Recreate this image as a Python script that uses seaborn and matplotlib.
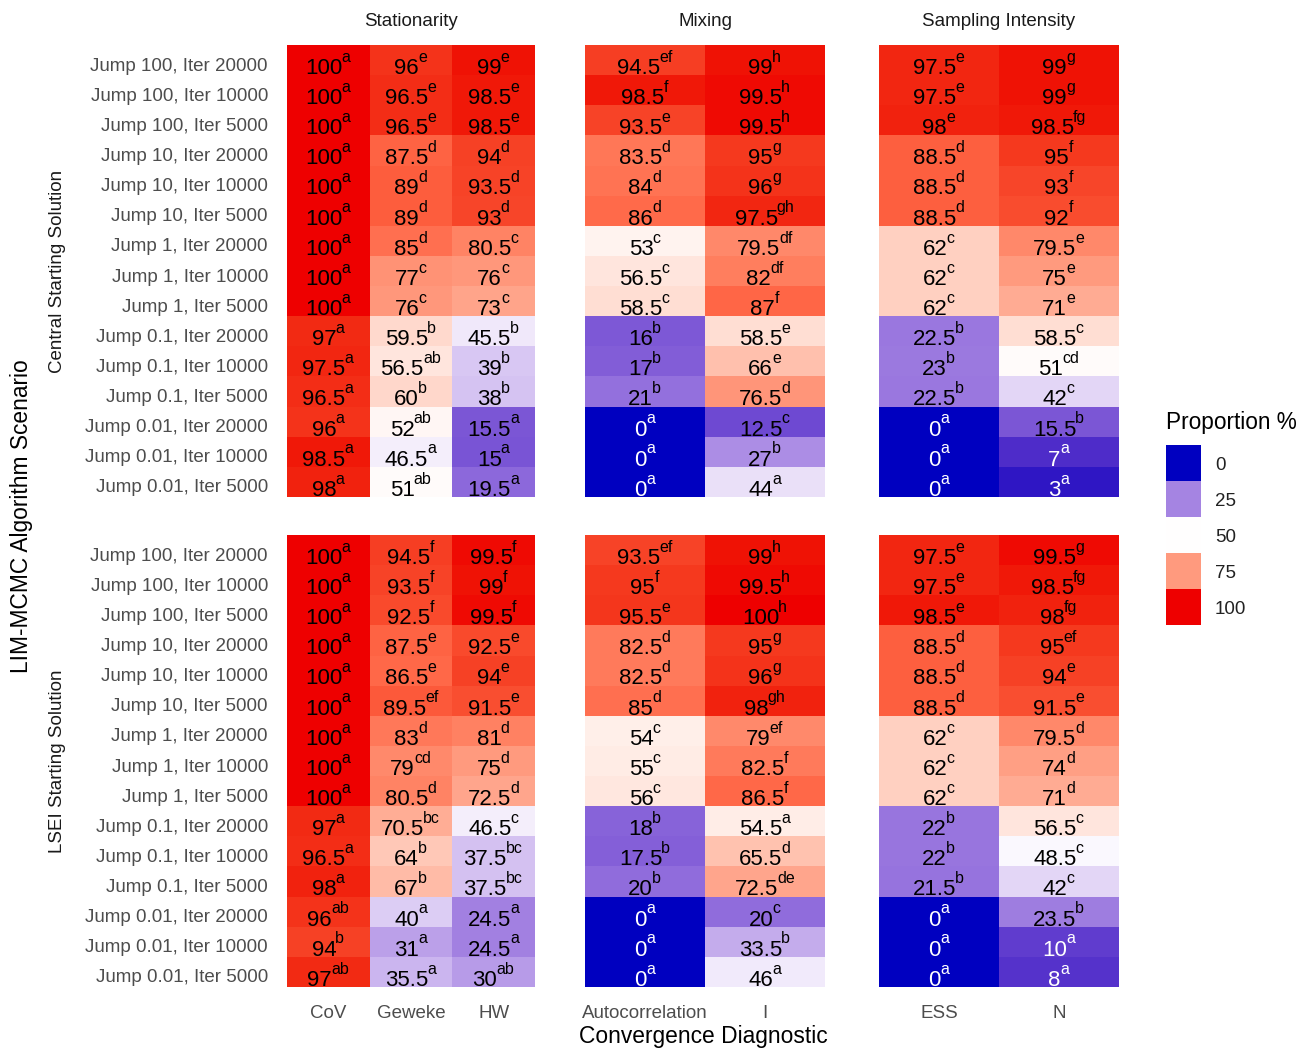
import numpy as np
import pandas as pd
import matplotlib
matplotlib.use("Agg")
import matplotlib.pyplot as plt
from matplotlib.colors import ListedColormap, to_rgb
import seaborn as sns

sns.set_theme(style="white")
plt.rcParams["font.family"] = ["Liberation Sans", "DejaVu Sans"]

# ---------------------------------------------------------------- data
scenarios = [
    "Jump 100, Iter 20000", "Jump 100, Iter 10000", "Jump 100, Iter 5000",
    "Jump 10, Iter 20000", "Jump 10, Iter 10000", "Jump 10, Iter 5000",
    "Jump 1, Iter 20000", "Jump 1, Iter 10000", "Jump 1, Iter 5000",
    "Jump 0.1, Iter 20000", "Jump 0.1, Iter 10000", "Jump 0.1, Iter 5000",
    "Jump 0.01, Iter 20000", "Jump 0.01, Iter 10000", "Jump 0.01, Iter 5000",
]
starting_solutions = ["Central Starting Solution", "LSEI Starting Solution"]
groups = ["Stationarity", "Mixing", "Sampling Intensity"]
group_diagnostics = [["CoV", "Geweke", "HW"], ["Autocorrelation", "I"], ["ESS", "N"]]

# Central starting solution: proportion (%) and significance groups
central_cov = [100, 100, 100, 100, 100, 100, 100, 100, 100, 97, 97.5, 96.5, 96, 98.5, 98]
central_cov_grp = ["a"] * 15
central_geweke = [96, 96.5, 96.5, 87.5, 89, 89, 85, 77, 76, 59.5, 56.5, 60, 52, 46.5, 51]
central_geweke_grp = ["e", "e", "e", "d", "d", "d", "d", "c", "c", "b", "ab", "b", "ab", "a", "ab"]
central_hw = [99, 98.5, 98.5, 94, 93.5, 93, 80.5, 76, 73, 45.5, 39, 38, 15.5, 15, 19.5]
central_hw_grp = ["e", "e", "e", "d", "d", "d", "c", "c", "c", "b", "b", "b", "a", "a", "a"]
central_autocorr = [94.5, 98.5, 93.5, 83.5, 84, 86, 53, 56.5, 58.5, 16, 17, 21, 0, 0, 0]
central_autocorr_grp = ["ef", "f", "e", "d", "d", "d", "c", "c", "c", "b", "b", "b", "a", "a", "a"]
central_i = [99, 99.5, 99.5, 95, 96, 97.5, 79.5, 82, 87, 58.5, 66, 76.5, 12.5, 27, 44]
central_i_grp = ["h", "h", "h", "g", "g", "gh", "df", "df", "f", "e", "e", "d", "c", "b", "a"]
central_ess = [97.5, 97.5, 98, 88.5, 88.5, 88.5, 62, 62, 62, 22.5, 23, 22.5, 0, 0, 0]
central_ess_grp = ["e", "e", "e", "d", "d", "d", "c", "c", "c", "b", "b", "b", "a", "a", "a"]
central_n = [99, 99, 98.5, 95, 93, 92, 79.5, 75, 71, 58.5, 51, 42, 15.5, 7, 3]
central_n_grp = ["g", "g", "fg", "f", "f", "f", "e", "e", "e", "c", "cd", "c", "b", "a", "a"]

# LSEI starting solution
lsei_cov = [100, 100, 100, 100, 100, 100, 100, 100, 100, 97, 96.5, 98, 96, 94, 97]
lsei_cov_grp = ["a"] * 12 + ["ab", "b", "ab"]
lsei_geweke = [94.5, 93.5, 92.5, 87.5, 86.5, 89.5, 83, 79, 80.5, 70.5, 64, 67, 40, 31, 35.5]
lsei_geweke_grp = ["f", "f", "f", "e", "e", "ef", "d", "cd", "d", "bc", "b", "b", "a", "a", "a"]
lsei_hw = [99.5, 99, 99.5, 92.5, 94, 91.5, 81, 75, 72.5, 46.5, 37.5, 37.5, 24.5, 24.5, 30]
lsei_hw_grp = ["f", "f", "f", "e", "e", "e", "d", "d", "d", "c", "bc", "bc", "a", "a", "ab"]
lsei_autocorr = [93.5, 95, 95.5, 82.5, 82.5, 85, 54, 55, 56, 18, 17.5, 20, 0, 0, 0]
lsei_autocorr_grp = ["ef", "f", "e", "d", "d", "d", "c", "c", "c", "b", "b", "b", "a", "a", "a"]
lsei_i = [99, 99.5, 100, 95, 96, 98, 79, 82.5, 86.5, 54.5, 65.5, 72.5, 20, 33.5, 46]
lsei_i_grp = ["h", "h", "h", "g", "g", "gh", "ef", "f", "f", "a", "d", "de", "c", "b", "a"]
lsei_ess = [97.5, 97.5, 98.5, 88.5, 88.5, 88.5, 62, 62, 62, 22, 22, 21.5, 0, 0, 0]
lsei_ess_grp = ["e", "e", "e", "d", "d", "d", "c", "c", "c", "b", "b", "b", "a", "a", "a"]
lsei_n = [99.5, 98.5, 98, 95, 94, 91.5, 79.5, 74, 71, 56.5, 48.5, 42, 23.5, 10, 8]
lsei_n_grp = ["g", "fg", "fg", "ef", "e", "e", "d", "d", "d", "c", "c", "c", "b", "a", "a"]

legend_breaks = [0, 25, 50, 75, 100]

values = {
    "Central Starting Solution": {
        "CoV": (central_cov, central_cov_grp), "Geweke": (central_geweke, central_geweke_grp),
        "HW": (central_hw, central_hw_grp), "Autocorrelation": (central_autocorr, central_autocorr_grp),
        "I": (central_i, central_i_grp), "ESS": (central_ess, central_ess_grp),
        "N": (central_n, central_n_grp),
    },
    "LSEI Starting Solution": {
        "CoV": (lsei_cov, lsei_cov_grp), "Geweke": (lsei_geweke, lsei_geweke_grp),
        "HW": (lsei_hw, lsei_hw_grp), "Autocorrelation": (lsei_autocorr, lsei_autocorr_grp),
        "I": (lsei_i, lsei_i_grp), "ESS": (lsei_ess, lsei_ess_grp),
        "N": (lsei_n, lsei_n_grp),
    },
}


# ---------------------------------------------------------------- diverging palette (Lab interpolation)
_M = np.array([[0.4124564, 0.3575761, 0.1804375],
               [0.2126729, 0.7151522, 0.0721750],
               [0.0193339, 0.1191920, 0.9503041]])
_WHITE = np.array([0.95047, 1.0, 1.08883])
_D = 6 / 29


def rgb_to_lab(rgb):
    c = np.asarray(rgb, float)
    lin = np.where(c <= 0.04045, c / 12.92, ((c + 0.055) / 1.055) ** 2.4)
    xyz = _M @ lin / _WHITE
    f = np.where(xyz > _D ** 3, np.cbrt(xyz), xyz / (3 * _D ** 2) + 4 / 29)
    return np.array([116 * f[1] - 16, 500 * (f[0] - f[1]), 200 * (f[1] - f[2])])


def lab_to_rgb(lab):
    L, a, b = lab
    fy = (L + 16) / 116
    f = np.array([fy + a / 500, fy, fy - b / 200])
    xyz = np.where(f > _D, f ** 3, 3 * _D ** 2 * (f - 4 / 29)) * _WHITE
    lin = np.clip(np.linalg.solve(_M, xyz), 0, 1)
    c = np.where(lin <= 0.0031308, 12.92 * lin, 1.055 * lin ** (1 / 2.4) - 0.055)
    return np.clip(c, 0, 1)


low_lab = rgb_to_lab(to_rgb("#0000C0"))
mid_lab = rgb_to_lab(to_rgb("#FFFFFF"))
high_lab = rgb_to_lab(to_rgb("#EE0000"))
ramp = []
for t in np.linspace(0, 1, 256):
    if t < 0.5:
        ramp.append(lab_to_rgb(low_lab + (mid_lab - low_lab) * (t / 0.5)))
    else:
        ramp.append(lab_to_rgb(mid_lab + (high_lab - mid_lab) * ((t - 0.5) / 0.5)))
cmap = ListedColormap(ramp)

# approximate advance widths (em) of the superscript letters
SUP_EM = {"a": .556, "b": .556, "c": .5, "d": .556, "e": .556, "f": .278, "g": .556, "h": .556}
NUM_SIZE = 16
SUP_SIZE = 11.5

# ---------------------------------------------------------------- layout
W, H = 1309, 1050
fig = plt.figure(figsize=(W / 100, H / 100), dpi=100)

col_left = [287, 585, 879]
col_width = [248, 240, 240]
row_top = [45, 535]
row_height = 452
n_rows = len(scenarios)
row_px = row_height / n_rows
tick_color = "#4D4D4D"


def fig_rect(left, top, width, height):
    return [left / W, 1 - (top + height) / H, width / W, height / H]


for r, start in enumerate(starting_solutions):
    for c, group in enumerate(groups):
        diags = group_diagnostics[c]
        ax = fig.add_axes(fig_rect(col_left[c], row_top[r], col_width[c], row_height))
        df = pd.DataFrame({d: values[start][d][0] for d in diags}, index=scenarios)
        sns.heatmap(
            df, ax=ax, cmap=cmap, vmin=0, vmax=100, cbar=False,
            xticklabels=(diags if r == 1 else False),
            yticklabels=False,
        )
        # value label with a raised significance letter, centred as one unit
        for j, d in enumerate(diags):
            vals, grps = values[start][d]
            for i, (v, g) in enumerate(zip(vals, grps)):
                color = "white" if v < 11 else "black"
                sup_w = sum(SUP_EM[ch] for ch in g) * SUP_SIZE
                num = ax.annotate(f"{v:g}", xy=(j + 0.5, i + 1 - 1.2 / row_px),
                                  xytext=(-sup_w / 2, 0), textcoords="offset points",
                                  ha="center", va="baseline", fontsize=NUM_SIZE, color=color)
                ax.annotate(g, xy=(1, 0), xycoords=num, xytext=(-0.6, 12.4),
                            textcoords="offset points", ha="left", va="baseline",
                            fontsize=SUP_SIZE, color=color)
        if c == 0:
            ax.set_yticks(np.arange(n_rows) + 0.5 + 4 / row_px)
            ax.set_yticklabels(scenarios)
        ax.tick_params(axis="both", length=0)
        ax.tick_params(axis="y", labelsize=13.5, labelcolor=tick_color, pad=13.7, labelrotation=0)
        ax.tick_params(axis="x", labelsize=13.5, labelcolor=tick_color, pad=12.6, labelrotation=0)
        ax.set_xlabel("")
        ax.set_ylabel("")
        if r == 0:
            ax.text(0.5, 1 + 24 / row_height, group, transform=ax.transAxes,
                    ha="center", va="center", fontsize=13.5, color="#1A1A1A")

# Row strip labels on the left
for r, start in enumerate(starting_solutions):
    yc = 1 - (row_top[r] + row_height / 2) / H
    fig.text(58 / W, yc, start, rotation=90, ha="center", va="center",
             fontsize=13.5, color="#1A1A1A")

# Axis titles
fig.text(703 / W, 1 - 1037 / H, "Convergence Diagnostic", ha="center", va="center",
         fontsize=16.4, color="black")
fig.text(22 / W, 1 - 516 / H, "LIM-MCMC Algorithm Scenario", rotation=90,
         ha="center", va="center", fontsize=16.4, color="black")

# Legend keys
lax = fig.add_axes(fig_rect(1166, 445, 35, 180))
sns.heatmap(pd.DataFrame({"key": legend_breaks}), ax=lax, cmap=cmap, vmin=0, vmax=100,
            cbar=False, xticklabels=False, yticklabels=False)
lax.yaxis.tick_right()
lax.set_yticks(np.arange(len(legend_breaks)) + 0.5)
lax.set_yticklabels([str(b) for b in legend_breaks], rotation=0)
lax.tick_params(axis="y", length=0, labelsize=13.5, labelcolor="#222222", pad=10,
                labelright=True, labelleft=False)
lax.set_xlabel("")
lax.set_ylabel("")
fig.text(1166 / W, 1 - 422 / H, "Proportion %", ha="left", va="center",
         fontsize=16.3, color="black")

fig.savefig("out.png", dpi=100)
